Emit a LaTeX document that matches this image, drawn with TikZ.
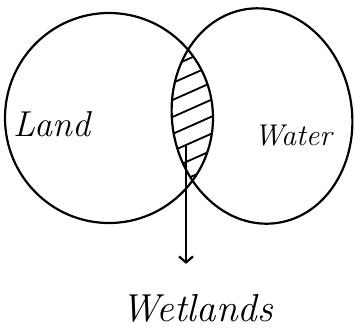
\documentclass[tikz,border=0pt]{standalone}
\usepackage{tikz}
\usetikzlibrary{positioning,arrows.meta}
\tikzset{
  set/.style={line width=2.2pt},
  hatch/.style={line width=1.8pt},
  setlabel/.style={font=\fontsize{36}{38}\selectfont\itshape,inner sep=0pt},
}
\begin{document}
\begin{tikzpicture}[x=1pt,y=-1pt,line cap=round]
  \useasboundingbox (0,0) rectangle (355,333);
  % ===== the two sets =====
  \draw[set] (109,118) ellipse [x radius=104, y radius=105];
  \draw[set,rotate around={8:(262,116)}] (262,116) ellipse [x radius=90, y radius=108];
  % hatched overlap
  \begin{scope}
    \clip (109,118) ellipse [x radius=104, y radius=105];
    \clip[rotate around={8:(262,116)}] (262,116) ellipse [x radius=90, y radius=108];
    \foreach \k in {0,...,7}
      \draw[hatch] (150,76+17*\k)--(240,76+17*\k-40);
  \end{scope}
  % ===== labels =====
  \node[setlabel] (land) at (52,124){Land};
  \node[setlabel,font=\fontsize{30}{32}\selectfont\itshape] (water) at (293,136){Water};
  \node[setlabel,font=\fontsize{39}{41}\selectfont\itshape] (wetlands) at (197,308){Wetlands};
  \coordinate (lensbot) at (186,146);
  \draw[set,-{Straight Barb[length=6pt,width=14pt]}] (lensbot)--(lensbot|-wetlands.north)
       [shorten >=30pt];
\end{tikzpicture}
\end{document}
